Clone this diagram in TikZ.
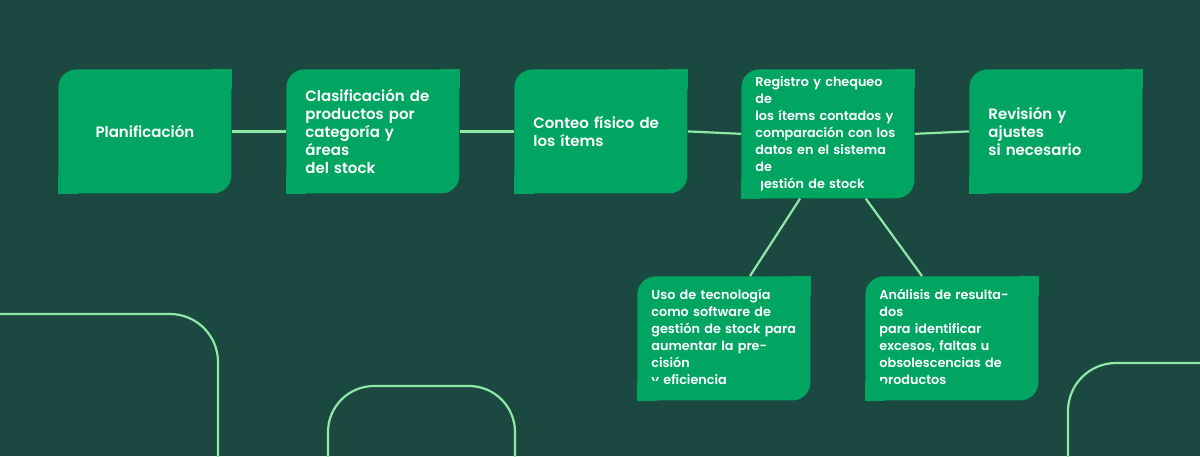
\documentclass[tikz,border=0pt]{standalone}
\usepackage{fontspec}
\setmainfont{Poppins}[BoldFont={Poppins SemiBold}]
\definecolor{bgdark}{HTML}{1B4840}
\definecolor{boxgreen}{HTML}{00A562}
\definecolor{linegreen}{HTML}{8EE8A6}
\tikzset{
  stepbox/.style={fill=boxgreen, rounded corners=9pt, anchor=north west,
    minimum width=86.5pt, minimum height=62pt, text=white, font=\bfseries,
    align=left},
  bigtext/.style={font=\bfseries\fontsize{7.5}{9}\selectfont, text width=67.5pt, inner xsep=9.5pt},
  smalltext/.style={font=\bfseries\fontsize{6.4}{8.5}\selectfont, text width=72.5pt, inner xsep=7pt},
  link/.style={draw=linegreen, line width=1.1pt},
}
% square off top-right and bottom-left corners
\newcommand{\squarecorners}[1]{%
  \fill[boxgreen] (#1.north east) rectangle ++(-10pt,-10pt);
  \fill[boxgreen] (#1.south west) rectangle ++(10pt,10pt);}
\begin{document}
\begin{tikzpicture}[x=0.5pt,y=-0.5pt]
  \fill[bgdark] (0,0) rectangle (1200,456);
  \useasboundingbox (0,0) rectangle (1200,456);

  % decorative curves
  \draw[link, rounded corners=24pt] (0,314) -- (218,314) -- (218,460);
  \draw[link, rounded corners=23pt] (328,460) -- (328,386) -- (515,386) -- (515,460);
  \draw[link, rounded corners=24pt] (1068,460) -- (1068,363) -- (1204,363);

  % steps
  \node[stepbox, bigtext, align=center] (plan) at (58,69) {Planificación};
  \node[stepbox, bigtext] (clasif) at (286,69) {Clasificación de\\productos por\\categoría y áreas\\del stock};
  \node[stepbox, bigtext] (conteo) at (514,69) {Conteo físico de\\los ítems};
  \node[stepbox, smalltext] (registro) at (741,69) {Registro y chequeo de\\los ítems contados y\\comparación con los\\datos en el sistema de\\gestión de stock};
  \node[stepbox, bigtext] (revision) at (969,69) {Revisión y ajustes\\si necesario};
  \node[stepbox, smalltext] (tecno) at (637,276) {Uso de tecnología\\como software de\\gestión de stock para\\aumentar la precisión\\y eficiencia};
  \node[stepbox, smalltext] (analisis) at (865,276) {Análisis de resultados\\para identificar\\excesos, faltas u\\obsolescencias de\\productos};
  \squarecorners{plan}
  \squarecorners{clasif}
  \squarecorners{conteo}
  \squarecorners{registro}
  \squarecorners{revision}
  \squarecorners{tecno}
  \squarecorners{analisis}

  % connectors
  \draw[link] (plan.east) -- (clasif.west);
  \draw[link] (clasif.east) -- (conteo.west);
  \draw[link] (conteo.east) -- (registro.west);
  \draw[link] (registro.east) -- (revision.west);
  \draw[link] ([xshift=29.5pt]registro.south west) -- ([xshift=56.5pt]tecno.north west);
  \draw[link] ([xshift=-24.5pt]registro.south east) -- ([xshift=28.5pt]analisis.north west);
\end{tikzpicture}
\end{document}
